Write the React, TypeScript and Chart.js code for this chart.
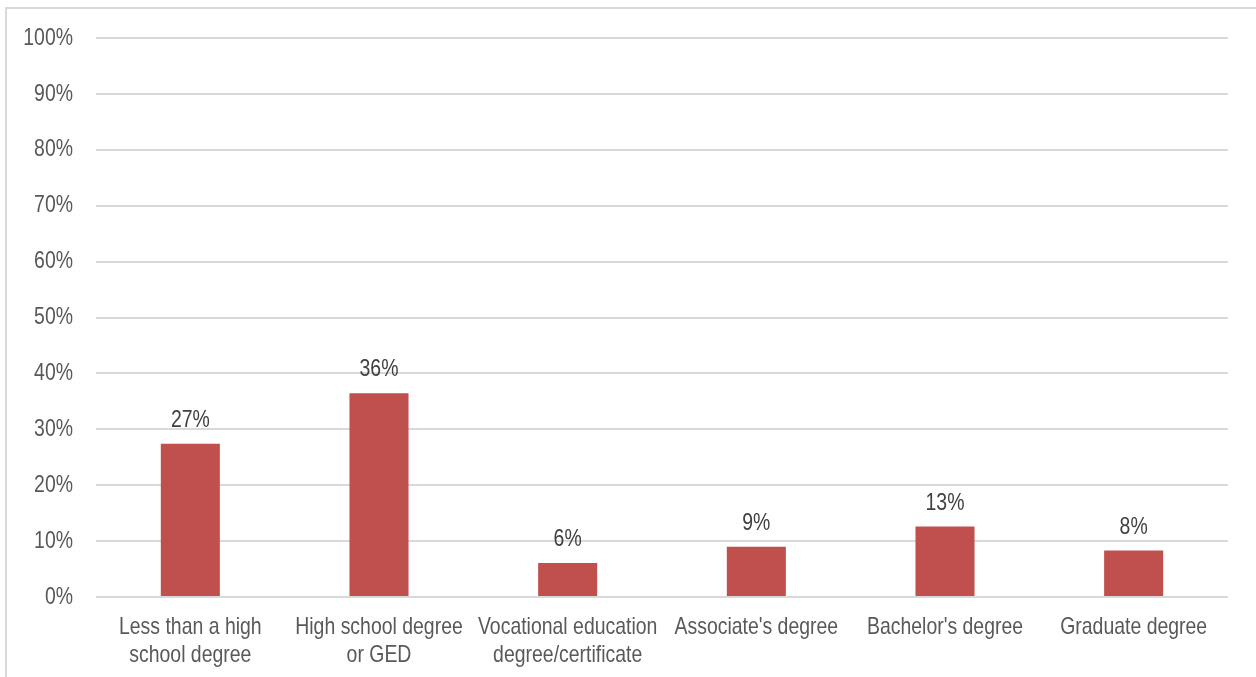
import React, { useEffect, useRef } from "react";
import { Chart, registerables } from "chart.js";

Chart.register(...registerables);

const categories: string[][] = [
  ["Less than a high", "school degree"],
  ["High school degree", "or GED"],
  ["Vocational education", "degree/certificate"],
  ["Associate's degree"],
  ["Bachelor's degree"],
  ["Graduate degree"],
];

const shares: number[] = [27.4, 36.45, 6.1, 9.0, 12.6, 8.3];

const yTicks: number[] = [0, 10, 20, 30, 40, 50, 60, 70, 80, 90, 100];

const FONT = "'Liberation Sans', Arial, sans-serif";
const FONT_SIZE = 24;
// Horizontal squeeze applied to all canvas text, giving a narrow sans look.
const TEXT_SQUEEZE = 0.81;

const narrowText = {
  id: "narrowText",
  beforeDraw(chart: any) {
    const ctx = chart.ctx;
    if (ctx.__origFillText) return;
    const orig = ctx.fillText;
    ctx.__origFillText = orig;
    ctx.fillText = function (text: string, x: number, y: number, maxWidth?: number) {
      ctx.save();
      ctx.translate(x, y);
      ctx.scale(TEXT_SQUEEZE, 1);
      if (maxWidth === undefined) orig.call(ctx, text, 0, 0);
      else orig.call(ctx, text, 0, 0, maxWidth / TEXT_SQUEEZE);
      ctx.restore();
    };
  },
  afterDraw(chart: any) {
    const ctx = chart.ctx;
    if (ctx.__origFillText) {
      ctx.fillText = ctx.__origFillText;
      delete ctx.__origFillText;
    }
  },
};

const valueLabels = {
  id: "valueLabels",
  afterDatasetsDraw(chart: any) {
    const { ctx } = chart;
    const meta = chart.getDatasetMeta(0);
    const data = chart.data.datasets[0].data as number[];
    ctx.save();
    ctx.font = `${FONT_SIZE}px ${FONT}`;
    ctx.fillStyle = "#404040";
    ctx.textAlign = "center";
    ctx.textBaseline = "alphabetic";
    meta.data.forEach((bar: any, i: number) => {
      ctx.fillText(`${Math.round(data[i])}%`, bar.x, bar.y - 17);
    });
    ctx.restore();
  },
};

export default function App() {
  const canvasRef = useRef<HTMLCanvasElement | null>(null);

  useEffect(() => {
    if (!canvasRef.current) return;
    const chart = new Chart(canvasRef.current, {
      type: "bar",
      data: {
        labels: categories,
        datasets: [
          {
            data: shares,
            backgroundColor: "#C0504D",
            borderWidth: 0,
            barPercentage: 0.313,
            categoryPercentage: 1,
          },
        ],
      },
      options: {
        animation: false,
        responsive: false,
        maintainAspectRatio: false,
        layout: { padding: { top: 38, right: 28, left: 0, bottom: 0 } },
        plugins: {
          legend: { display: false },
          tooltip: { enabled: false },
        },
        scales: {
          x: {
            grid: { display: false, drawTicks: false },
            border: { display: false },
            ticks: {
              color: "#595959",
              font: { family: FONT, size: FONT_SIZE, lineHeight: 1.18 },
              padding: 16,
              maxRotation: 0,
              autoSkip: false,
            },
            afterFit: (scale: any) => {
              scale.height = 80;
            },
          },
          y: {
            min: 0,
            max: 100,
            afterBuildTicks: (scale: any) => {
              scale.ticks = yTicks.map((v) => ({ value: v }));
            },
            grid: { color: "#D9D9D9", lineWidth: 2, drawTicks: false },
            border: { display: false },
            ticks: {
              color: "#595959",
              font: { family: FONT, size: FONT_SIZE },
              padding: 23,
              callback: (v: any) => `${v}%`,
            },
            afterFit: (scale: any) => {
              scale.width = 96;
            },
          },
        },
      },
      plugins: [narrowText, valueLabels],
    });
    return () => chart.destroy();
  }, []);

  return (
    <div style={{ position: "fixed", left: 0, top: 0, width: 1256, height: 677, background: "#fff" }}>
      <div
        style={{
          position: "absolute",
          left: 5,
          top: 7,
          width: 1300,
          height: 720,
          border: "2px solid #D9D9D9",
          boxSizing: "border-box",
        }}
      />
      <canvas
        ref={canvasRef}
        width={1256}
        height={677}
        style={{ position: "absolute", left: 0, top: 0, width: 1256, height: 677 }}
      />
    </div>
  );
}
